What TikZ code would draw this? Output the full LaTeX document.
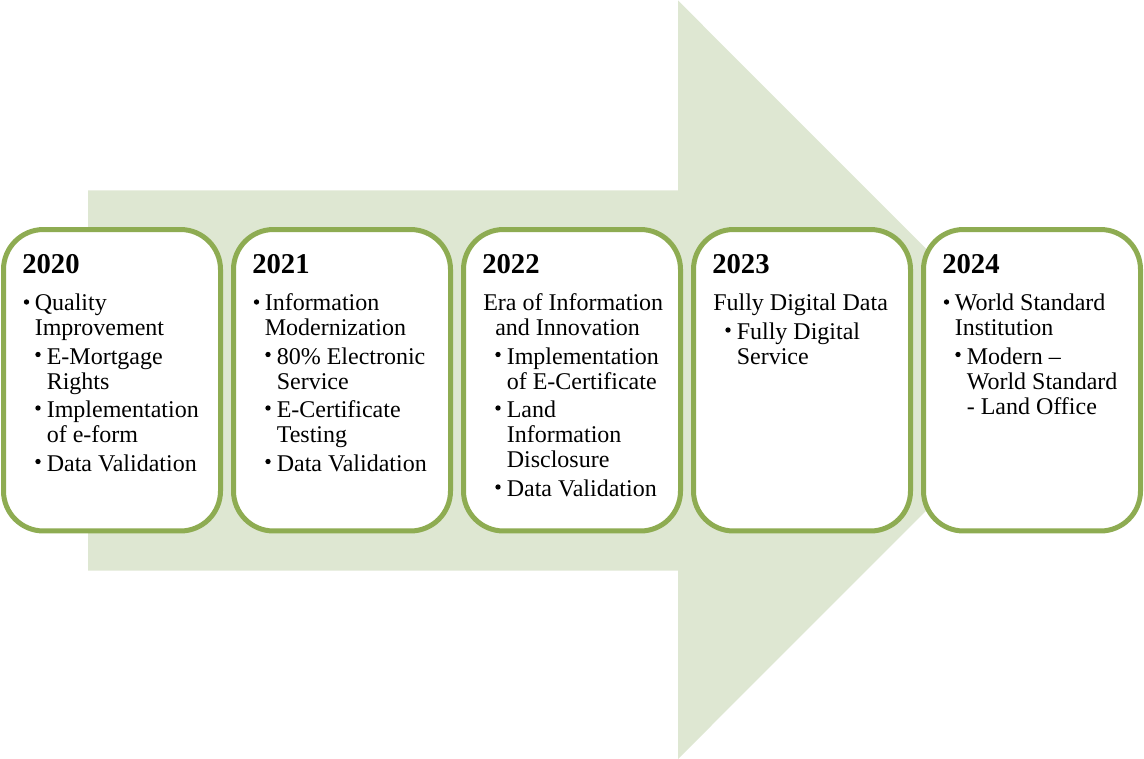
\documentclass[tikz,border=0pt]{standalone}
\usepackage{fontspec}
\setmainfont{Liberation Serif}
\definecolor{arrowfill}{RGB}{222,231,210}
\definecolor{boxline}{RGB}{142,172,82}
\begin{document}
\begin{tikzpicture}[x=0.75pt,y=-0.75pt,
  yearbox/.style={draw=boxline, fill=white, line width=3.75pt, rounded corners=30pt,
    minimum width=162.75pt, minimum height=226.1pt, inner sep=0pt},
  yeartext/.style={anchor=base west, inner sep=0pt, font=\fontsize{21.5}{24}\selectfont\bfseries},
  linetext/.style={anchor=base west, inner sep=0pt, font=\fontsize{18}{20}\selectfont},
  dot/.style={circle, fill=black, inner sep=0pt, minimum size=4pt}]
\useasboundingbox (0,0) rectangle (1144,759);
% background arrow
\fill[arrowfill] (88,190.5) -- (678,190.5) -- (678,0.5) -- (1057,379.75)
  -- (678,759) -- (678,570.5) -- (88,570.5) -- cycle;
% year boxes
\node[yearbox] (box0) at (112,380.25) {};
\node[yearbox] (box1) at (342,380.25) {};
\node[yearbox] (box2) at (572,380.25) {};
\node[yearbox] (box3) at (802,380.25) {};
\node[yearbox] (box4) at (1032,380.25) {};
% 2020
\node[yeartext] (y0) at (22,273) {2020};
\node[dot] (d0a) at (26.5,302) {};
\node[linetext] (t0a) at (34.5,310.5) {Quality};
\node[linetext] (t0b) at (34.5,335.5) {Improvement};
\node[dot] (d0b) at (38,354.5) {};
\node[linetext] (t0c) at (46.5,364) {E-Mortgage};
\node[linetext] (t0d) at (46.5,389) {Rights};
\node[dot] (d0c) at (38,408) {};
\node[linetext] (t0e) at (46.5,417.5) {Implementation};
\node[linetext] (t0f) at (46.5,442.5) {of e-form};
\node[dot] (d0d) at (38,461.5) {};
\node[linetext] (t0g) at (46.5,471) {Data Validation};
% 2021
\node[yeartext] (y1) at (252,273) {2021};
\node[dot] (d1a) at (256.5,302) {};
\node[linetext] (t1a) at (264.5,310.5) {Information};
\node[linetext] (t1b) at (264.5,335.5) {Modernization};
\node[dot] (d1b) at (268,354.5) {};
\node[linetext] (t1c) at (276.5,364) {80\% Electronic};
\node[linetext] (t1d) at (276.5,389) {Service};
\node[dot] (d1c) at (268,408) {};
\node[linetext] (t1e) at (276.5,417.5) {E-Certificate};
\node[linetext] (t1f) at (276.5,442.5) {Testing};
\node[dot] (d1d) at (268,461.5) {};
\node[linetext] (t1g) at (276.5,471) {Data Validation};
% 2022
\node[yeartext] (y2) at (482,273) {2022};
\node[linetext] (t2a) at (483,310.5) {Era of Information};
\node[linetext] (t2b) at (495,335.5) {and Innovation};
\node[dot] (d2a) at (498,354.5) {};
\node[linetext] (t2c) at (506.5,364) {Implementation};
\node[linetext] (t2d) at (506.5,389) {of E-Certificate};
\node[dot] (d2b) at (498,408) {};
\node[linetext] (t2e) at (506.5,417.5) {Land};
\node[linetext] (t2f) at (506.5,442.5) {Information};
\node[linetext] (t2g) at (506.5,467.5) {Disclosure};
\node[dot] (d2c) at (498,487) {};
\node[linetext] (t2h) at (506.5,496.5) {Data Validation};
% 2023
\node[yeartext] (y3) at (712,273) {2023};
\node[linetext] (t3a) at (713,310.5) {Fully Digital Data};
\node[dot] (d3a) at (728,330) {};
\node[linetext] (t3b) at (736.5,339.5) {Fully Digital};
\node[linetext] (t3c) at (736.5,364.5) {Service};
% 2024
\node[yeartext] (y4) at (942,273) {2024};
\node[dot] (d4a) at (946.5,302) {};
\node[linetext] (t4a) at (954.5,310.5) {World Standard};
\node[linetext] (t4b) at (954.5,335.5) {Institution};
\node[dot] (d4b) at (958,354.5) {};
\node[linetext] (t4c) at (966.5,364) {Modern –};
\node[linetext] (t4d) at (966.5,389) {World Standard};
\node[linetext] (t4e) at (966.5,414) {- Land Office};
\end{tikzpicture}
\end{document}
